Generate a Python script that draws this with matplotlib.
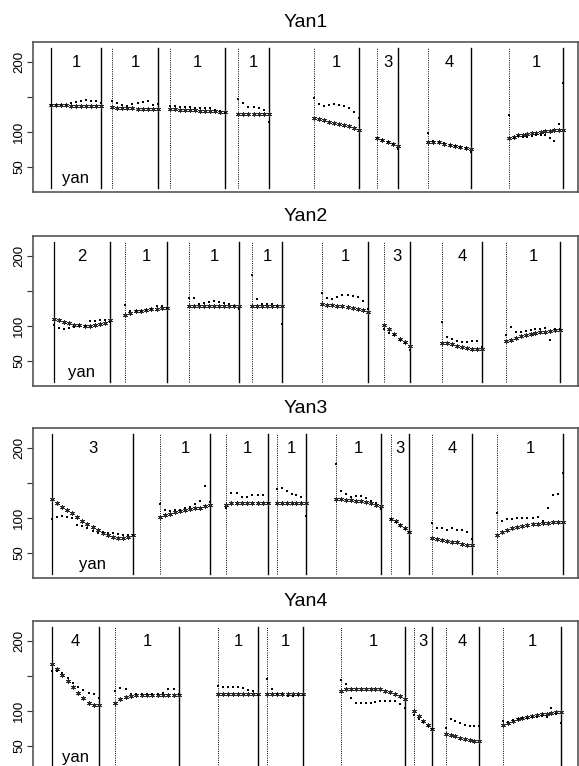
import matplotlib
matplotlib.use("Agg")
import matplotlib.pyplot as plt
import numpy as np

plt.rcParams['font.family'] = ['Liberation Sans', 'DejaVu Sans']

# panel names
titles = ["Yan1", "Yan2", "Yan3", "Yan4"]

# segment bounds (x units, 1 unit ~ one time step)
starts = [
    [3.6, 15.8, 27.4, 41.0, 56.2, 68.8, 79.0, 95.2],
    [4.2, 18.4, 31.2, 43.8, 57.8, 70.2, 81.8, 94.6],
    [3.8, 25.4, 38.6, 48.8, 60.6, 71.6, 79.8, 92.8],
    [3.8, 16.4, 37.0, 46.8, 61.6, 76.2, 82.6, 94.0],
]
ends = [
    [13.6, 25.0, 38.4, 47.2, 65.2, 73.0, 87.6, 106.0],
    [15.4, 26.8, 41.2, 49.8, 67.0, 75.4, 89.8, 105.4],
    [20.0, 35.4, 47.0, 54.6, 69.6, 75.2, 87.8, 106.0],
    [13.2, 29.2, 45.0, 54.0, 74.4, 79.8, 89.2, 105.6],
]
seg_labels = [
    ["1", "1", "1", "1", "1", "3", "4", "1"],
    ["2", "1", "1", "1", "1", "3", "4", "1"],
    ["3", "1", "1", "1", "1", "3", "4", "1"],
    ["4", "1", "1", "1", "1", "3", "4", "1"],
]

# fitted values (stars)
fit1 = [
    [138, 138, 138, 138, 137, 137, 137, 137, 137, 137, 137],
    [136, 135, 135, 134, 134, 133, 133, 133, 133, 133],
    [133, 133, 132, 132, 131, 131, 130, 130, 130, 130, 129, 128],
    [126, 126, 126, 126, 126, 126, 126],
    [120, 118, 117, 115, 113, 112, 110, 108, 106, 103],
    [91, 89, 85, 83, 80],
    [86, 86, 85, 83, 81, 80, 78, 77, 75],
    [91, 93, 95, 96, 97, 98, 99, 100, 101, 102, 103, 103, 103],
]
obs1 = [
    [138, 138, 138, 139, 142, 143, 144, 146, 145, 145, 141],
    [145, 142, 138, 137, 140, 142, 143, 145, 138, 140],
    [137, 137, 136, 136, 136, 135, 135, 134, 134, 132, 130, 127],
    [147, 142, 136, 136, 134, 131, 114],
    [149, 140, 137, 139, 140, 139, 137, 134, 129, 120],
    [92, 89, 85, 83, 76],
    [99, 87, 86, 84, 82, 80, 78, 77, 72],
    [124, 92, 94, 93, 93, 94, 95, 96, 95, 92, 87, 111, 170],
]
fit2 = [
    [110, 108, 106, 104, 102, 101, 100, 100, 101, 103, 105, 108],
    [116, 119, 121, 122, 123, 124, 125, 126, 126],
    [128, 128, 128, 128, 128, 128, 128, 128, 128, 128, 128],
    [128, 128, 128, 128, 128, 128, 128],
    [131, 130, 130, 129, 128, 127, 126, 125, 123, 120],
    [101, 95, 88, 82, 77, 72],
    [76, 75, 74, 72, 70, 68, 67, 67, 67],
    [78, 80, 83, 85, 87, 88, 90, 91, 92, 93, 94, 94],
]
obs2 = [
    [101, 97, 96, 97, 98, 100, 100, 107, 107, 108, 109, 106],
    [130, 122, 121, 122, 123, 125, 128, 128, 126],
    [140, 140, 131, 133, 135, 136, 135, 133, 131, 129, 125],
    [173, 139, 132, 132, 132, 129, 103],
    [147, 140, 138, 141, 144, 144, 143, 141, 136, 124],
    [96, 90, 87, 80, 76, 66],
    [106, 84, 81, 78, 77, 77, 78, 78, 70],
    [87, 99, 91, 92, 93, 94, 95, 96, 97, 80, 96, 96],
]
fit3 = [
    [127, 121, 116, 112, 107, 101, 96, 91, 87, 83, 79, 75, 73, 72, 72, 73, 75],
    [101, 104, 106, 108, 110, 112, 113, 114, 115, 117, 119],
    [119, 121, 121, 121, 121, 121, 121, 121, 121],
    [121, 121, 121, 121, 121, 121, 121],
    [127, 127, 126, 126, 125, 124, 123, 121, 119, 117],
    [99, 96, 90, 85, 80],
    [72, 70, 69, 67, 66, 65, 63, 61, 62],
    [76, 80, 83, 85, 87, 88, 90, 91, 92, 93, 93, 94, 94, 94],
]
obs3 = [
    [99, 101, 103, 101, 100, 90, 88, 85, 82, 79, 80, 79, 78, 77, 76, 75, 75],
    [120, 112, 110, 111, 112, 114, 116, 120, 124, 146, 123],
    [114, 136, 136, 130, 130, 133, 133, 133, 121],
    [141, 143, 138, 135, 133, 130, 103],
    [177, 138, 135, 130, 131, 131, 129, 125, 121, 113],
    [99, 94, 90, 84, 80],
    [93, 86, 86, 83, 85, 83, 83, 80, 70],
    [107, 96, 98, 99, 100, 100, 100, 100, 102, 95, 114, 133, 134, 164],
]
fit4 = [
    [168, 160, 152, 143, 134, 126, 118, 112, 109, 108],
    [112, 117, 120, 122, 123, 123, 123, 123, 123, 123, 123, 123, 123],
    [125, 125, 125, 125, 125, 125, 125, 125, 125],
    [125, 125, 125, 125, 125, 125, 125, 125],
    [129, 132, 132, 132, 132, 132, 132, 132, 131, 129, 127, 125, 121, 117],
    [100, 93, 86, 80, 74],
    [67, 66, 64, 62, 60, 58, 57, 57],
    [80, 83, 86, 88, 90, 92, 93, 94, 95, 96, 97, 98, 99],
]
obs4 = [
    [157, 157, 154, 148, 140, 135, 130, 126, 124, 118],
    [128, 133, 131, 125, 124, 124, 124, 125, 124, 126, 131, 132, 125],
    [136, 134, 135, 135, 134, 133, 130, 128, 123],
    [146, 132, 125, 124, 122, 122, 123, 123],
    [145, 139, 119, 112, 111, 111, 112, 113, 115, 115, 115, 114, 110, 104],
    [94, 89, 84, 78, 74],
    [76, 89, 86, 83, 80, 79, 79, 79],
    [86, 84, 87, 88, 90, 90, 91, 91, 93, 92, 104, 95, 83],
]
fits = [fit1, fit2, fit3, fit4]
obss = [obs1, obs2, obs3, obs4]

W, H = 579, 766
fig = plt.figure(figsize=(W / 100, H / 100), dpi=100)

tops = [42, 236, 428, 621]   # pixel top of each panel box
ph = 150
left, right = 33, 578

for k in range(4):
    ax = fig.add_axes([left / W, (H - tops[k] - ph) / H, (right - left) / W, ph / H])
    ax.set_xlim(0, 109)
    ax.set_ylim(14, 229)
    for i in range(len(starts[k])):
        s, e = starts[k][i], ends[k][i]
        # segment boundaries
        if i == 0:
            ax.plot([s, s], [20, 220], color='black', lw=0.9)
        else:
            ax.plot([s, s], [20, 220], color='black', lw=0.7, ls=(0, (1, 1.3)))
        ax.plot([e, e], [20, 220], color='black', lw=1.0)
        f = fits[k][i]
        o = obss[k][i]
        xs = np.linspace(s, e, len(f))
        ax.plot(xs, f, ls='none', marker=(6, 2, 0), ms=3.6, mew=0.6, color='#2a2a2a')
        ax.plot(xs, o, ls='none', marker='s', ms=1.8, mew=0, color='black')
        ax.text((s + e) / 2, 200, seg_labels[k][i], ha='center', va='center', fontsize=12)
        if i == 0:
            ax.text((s + e) / 2, 33, "yan", ha='center', va='center', fontsize=12)
    ax.set_yticks([50, 100, 150, 200])
    ax.set_yticklabels(['50', '100', '', '200'], rotation=90, va='center', fontsize=9.5)
    ax.set_xticks([])
    ax.tick_params(axis='y', length=4, width=0.8, pad=1.5, color='#333333')
    for sp in ax.spines.values():
        sp.set_color('#555555')
        sp.set_linewidth(1.2)
    ax.set_title(titles[k], fontsize=14, pad=11)

fig.savefig("out.png", dpi=100)
